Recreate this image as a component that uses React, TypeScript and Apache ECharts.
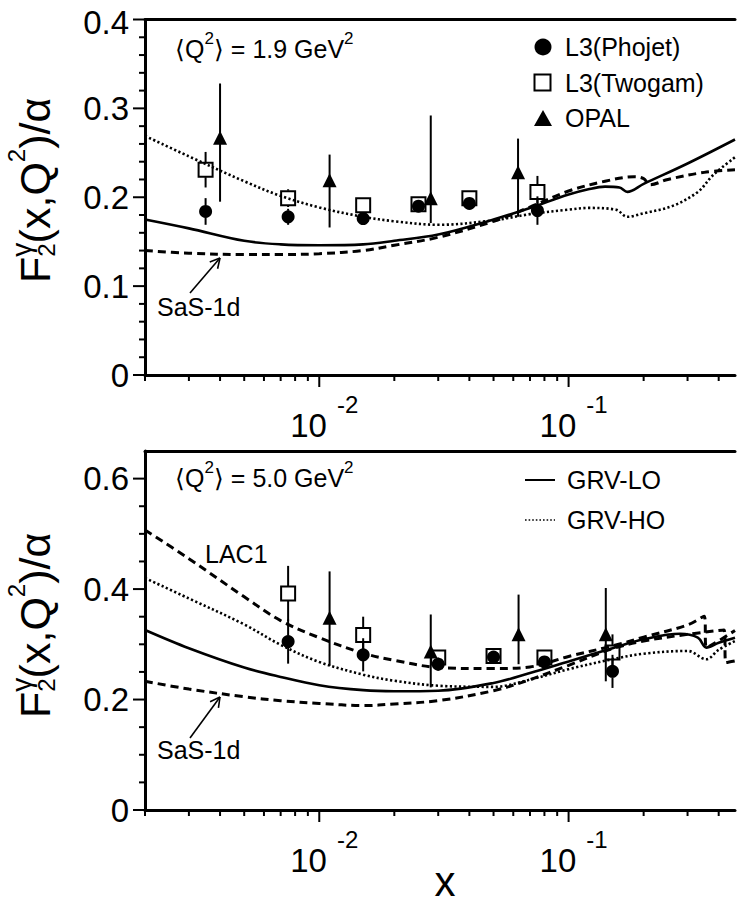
import React, { useEffect, useRef } from 'react';
import * as echarts from 'echarts';

const FONT = '"Liberation Sans", Arial, Helvetica, sans-serif';

// ---------- axes ----------
const X_MIN = 0.002;
const X_MAX = 0.465;
const X_TICKS = [0.002, 0.003, 0.004, 0.005, 0.006, 0.007, 0.008, 0.009, 0.01, 0.02, 0.03, 0.04, 0.05, 0.06, 0.07, 0.08, 0.09, 0.1, 0.2, 0.3, 0.4];
const X_MAJOR = [0.01, 0.1];
const TOP_Y_TICKS = [0, 0.02, 0.04, 0.06, 0.08, 0.1, 0.12, 0.14, 0.16, 0.18, 0.2, 0.22, 0.24, 0.26, 0.28, 0.3, 0.32, 0.34, 0.36, 0.38, 0.4];
const TOP_Y_MAJOR = [0, 0.1, 0.2, 0.3, 0.4];
const BOT_Y_TICKS = [0, 0.05, 0.1, 0.15, 0.2, 0.25, 0.3, 0.35, 0.4, 0.45, 0.5, 0.55, 0.6];
const BOT_Y_MAJOR = [0, 0.2, 0.4, 0.6];

// ---------- top panel: <Q2> = 1.9 GeV2 ----------
const phojetTopX = [0.0035, 0.0075, 0.015, 0.025, 0.04, 0.075];
const phojetTopY = [0.184, 0.178, 0.176, 0.190, 0.193, 0.185];
const phojetTopErr = [0.015, 0.009, 0.006, 0.006, 0.006, 0.016];

const twogamTopX = [0.0035, 0.0075, 0.015, 0.025, 0.04, 0.075];
const twogamTopY = [0.231, 0.199, 0.191, 0.192, 0.199, 0.206];
const twogamTopErr = [0.02, 0.01, 0.003, 0.005, 0.008, 0.018];

const opalTopX = [0.004, 0.011, 0.028, 0.0627];
const opalTopY = [0.267, 0.219, 0.199, 0.228];
const opalTopLo = [0.195, 0.166, 0.171, 0.178];
const opalTopHi = [0.328, 0.248, 0.292, 0.266];

const grvLoTopX = [0.002, 0.003, 0.005, 0.007, 0.01, 0.015, 0.02, 0.03, 0.05, 0.07, 0.1, 0.12, 0.14, 0.16, 0.172, 0.2, 0.3, 0.465];
const grvLoTopY = [0.175, 0.165, 0.151, 0.147, 0.146, 0.147, 0.151, 0.158, 0.175, 0.188, 0.203, 0.209, 0.212, 0.211, 0.206, 0.215, 0.238, 0.265];

const grvHoTopX = [0.002, 0.003, 0.005, 0.007, 0.01, 0.015, 0.02, 0.03, 0.05, 0.07, 0.1, 0.12, 0.155, 0.172, 0.2, 0.26, 0.33, 0.38, 0.465];
const grvHoTopY = [0.269, 0.246, 0.218, 0.2015, 0.1885, 0.178, 0.173, 0.169, 0.174, 0.181, 0.186, 0.188, 0.186, 0.178, 0.182, 0.19, 0.206, 0.225, 0.245];

const sasTopX = [0.002, 0.003, 0.005, 0.007, 0.01, 0.015, 0.02, 0.03, 0.05, 0.07, 0.1, 0.14, 0.183, 0.2, 0.212, 0.25, 0.35, 0.465];
const sasTopY = [0.140, 0.137, 0.1355, 0.1355, 0.1365, 0.140, 0.146, 0.155, 0.173, 0.189, 0.207, 0.218, 0.223, 0.221, 0.214, 0.220, 0.228, 0.231];

// ---------- bottom panel: <Q2> = 5.0 GeV2 ----------
const phojetBotX = [0.0075, 0.015, 0.03, 0.05, 0.08, 0.15];
const phojetBotY = [0.305, 0.281, 0.264, 0.277, 0.268, 0.251];
const phojetBotErr = [0.04, 0.03, 0.012, 0.008, 0.008, 0.03];

const twogamBotX = [0.0075, 0.015, 0.03, 0.05, 0.08, 0.15];
const twogamBotY = [0.392, 0.317, 0.276, 0.279, 0.276, 0.285];
const twogamBotErr = [0.05, 0.033, 0.01, 0.008, 0.008, 0.033];

const opalBotX = [0.011, 0.028, 0.063, 0.141];
const opalBotY = [0.348, 0.287, 0.318, 0.318];
const opalBotLo = [0.261, 0.222, 0.264, 0.233];
const opalBotHi = [0.432, 0.354, 0.390, 0.402];

const grvLoBotX = [0.002, 0.003, 0.005, 0.007, 0.01, 0.015, 0.02, 0.03, 0.05, 0.07, 0.1, 0.15, 0.2, 0.28, 0.33, 0.357, 0.4, 0.465];
const grvLoBotY = [0.326, 0.293, 0.258, 0.241, 0.226, 0.217, 0.215, 0.216, 0.230, 0.248, 0.269, 0.293, 0.309, 0.319, 0.312, 0.294, 0.303, 0.312];

const grvHoBotX = [0.002, 0.003, 0.005, 0.007, 0.01, 0.015, 0.02, 0.03, 0.05, 0.07, 0.1, 0.15, 0.2, 0.3, 0.357, 0.4, 0.465];
const grvHoBotY = [0.420, 0.383, 0.336, 0.299, 0.268, 0.245, 0.234, 0.225, 0.223, 0.236, 0.255, 0.273, 0.283, 0.288, 0.273, 0.290, 0.306];

const sasBotX = [0.002, 0.003, 0.005, 0.007, 0.01, 0.015, 0.02, 0.03, 0.05, 0.07, 0.1, 0.15, 0.2, 0.3, 0.42, 0.428, 0.465];
const sasBotY = [0.233, 0.219, 0.205, 0.198, 0.193, 0.189, 0.192, 0.198, 0.216, 0.236, 0.262, 0.292, 0.306, 0.318, 0.326, 0.267, 0.270];

const lac1BotX = [0.002, 0.003, 0.005, 0.007, 0.01, 0.015, 0.02, 0.03, 0.05, 0.07, 0.1, 0.15, 0.2, 0.3, 0.35, 0.357, 0.465];
const lac1BotY = [0.507, 0.455, 0.386, 0.343, 0.312, 0.284, 0.271, 0.258, 0.256, 0.259, 0.278, 0.297, 0.313, 0.335, 0.351, 0.294, 0.325];

// ---------- helpers ----------
let measureCtx: CanvasRenderingContext2D | null = null;
function measure(text: string, size: number): number {
  if (!measureCtx) measureCtx = document.createElement('canvas').getContext('2d');
  measureCtx!.font = `${size}px ${FONT}`;
  return measureCtx!.measureText(text).width;
}

type Seg = { t: string; fs: number; rise?: number; adv?: boolean };
function textEl(t: string, x: number, baseline: number, fs: number, align = 'left') {
  return {
    type: 'text',
    x,
    y: baseline - 0.3465 * fs,
    style: {
      text: t,
      fontSize: fs,
      fontFamily: FONT,
      lineHeight: Math.round(fs * 0.8),
      fill: '#000',
      align,
      verticalAlign: 'middle',
      textAlign: align,
      textVerticalAlign: 'middle',
    },
  };
}
function run(segs: Seg[], x0: number, baseline: number) {
  let x = x0;
  const out: any[] = [];
  for (const s of segs) {
    out.push(textEl(s.t, x, baseline - (s.rise || 0), s.fs));
    if (s.adv !== false) x += measure(s.t, s.fs);
  }
  return out;
}

function arrow(x1: number, y1: number, x2: number, y2: number) {
  const dx = x2 - x1, dy = y2 - y1;
  const L = Math.hypot(dx, dy);
  const ux = dx / L, uy = dy / L;
  const h = 11, a = (28 * Math.PI) / 180;
  const rot = (ang: number) => [ux * Math.cos(ang) - uy * Math.sin(ang), ux * Math.sin(ang) + uy * Math.cos(ang)];
  const r1 = rot(a), r2 = rot(-a);
  const st = { stroke: '#000', lineWidth: 1.6 };
  return [
    { type: 'line', shape: { x1, y1, x2, y2 }, style: st },
    { type: 'line', shape: { x1: x2, y1: y2, x2: x2 - h * r1[0], y2: y2 - h * r1[1] }, style: st },
    { type: 'line', shape: { x1: x2, y1: y2, x2: x2 - h * r2[0], y2: y2 - h * r2[1] }, style: st },
  ];
}

function yTitle(gx: number, gy: number) {
  return {
    type: 'group',
    x: gx,
    y: gy,
    rotation: Math.PI / 2,
    children: run(
      [
        { t: 'F', fs: 43 },
        { t: 'γ', fs: 28, rise: 19, adv: false },
        { t: '2', fs: 24, rise: -5 },
        { t: '(x,Q', fs: 43 },
        { t: '2', fs: 24, rise: 25 },
        { t: ')/α', fs: 43 },
      ],
      0,
      0
    ),
  };
}

function q2Label(x: number, baseline: number, val: string) {
  return run(
    [
      { t: '⟨Q', fs: 25 },
      { t: '2', fs: 17, rise: 14 },
      { t: '⟩ = ' + val + ' GeV', fs: 25 },
      { t: '2', fs: 17, rise: 14 },
    ],
    x,
    baseline
  );
}

const STYLE: Record<string, any> = {
  solid: { color: '#000', width: 2.6, type: 'solid' },
  dashed: { color: '#000', width: 3, type: [8, 5] },
  dotted: { color: '#000', width: 2.6, type: [2.2, 2.4] },
};

function lineSeries(gi: number, xs: number[], ys: number[], kind: string) {
  return {
    type: 'line',
    xAxisIndex: 2 * gi,
    yAxisIndex: gi,
    showSymbol: false,
    symbol: 'none',
    smooth: 0.35,
    silent: true,
    z: 2,
    lineStyle: STYLE[kind],
    data: xs.map((x, i) => [x, ys[i]]),
  };
}

function errSeries(gi: number, xs: number[], ys: number[], lo: number[], hi: number[], gap: number) {
  return {
    type: 'custom',
    xAxisIndex: 2 * gi,
    yAxisIndex: gi,
    silent: true,
    z: 3,
    data: xs.map((x, i) => [x, ys[i], lo[i], hi[i]]),
    renderItem: (params: any, api: any) => {
      const c = api.coord([api.value(0), api.value(1)]);
      const t = api.coord([api.value(0), api.value(3)]);
      const b = api.coord([api.value(0), api.value(2)]);
      const st = { stroke: '#000', lineWidth: 2 };
      const children: any[] = [];
      if (t[1] < c[1] - gap) children.push({ type: 'line', shape: { x1: c[0], y1: t[1], x2: c[0], y2: c[1] - gap }, style: st });
      if (b[1] > c[1] + gap) children.push({ type: 'line', shape: { x1: c[0], y1: c[1] + gap, x2: c[0], y2: b[1] }, style: st });
      return { type: 'group', children };
    },
  };
}

function symErr(ys: number[], e: number[], sign: number) {
  return ys.map((y, i) => y + sign * e[i]);
}

function scatter(gi: number, xs: number[], ys: number[], symbol: string, size: number, open: boolean) {
  return {
    type: 'scatter',
    xAxisIndex: 2 * gi,
    yAxisIndex: gi,
    symbol,
    symbolSize: size,
    silent: true,
    z: 4,
    itemStyle: open
      ? { color: 'rgba(255,255,255,0)', borderColor: '#000', borderWidth: 2, opacity: 1 }
      : { color: '#000', opacity: 1 },
    data: xs.map((x, i) => [x, ys[i]]),
  };
}

function xTicks(gi: number) {
  return {
    type: 'custom',
    xAxisIndex: 2 * gi,
    yAxisIndex: gi,
    silent: true,
    clip: false,
    z: 6,
    data: X_TICKS.map((v) => [v, 0, X_MAJOR.indexOf(v) >= 0 ? 1 : 0]),
    renderItem: (params: any, api: any) => {
      const p = api.coord([api.value(0), api.value(1)]);
      const len = api.value(2) ? 12 : 6;
      return { type: 'line', shape: { x1: p[0], y1: p[1], x2: p[0], y2: p[1] + len }, style: { stroke: '#000', lineWidth: 2 } };
    },
  };
}

function yTicks(gi: number, ticks: number[], major: number[]) {
  return {
    type: 'custom',
    xAxisIndex: 2 * gi,
    yAxisIndex: gi,
    silent: true,
    clip: false,
    z: 6,
    data: ticks.map((v) => [X_MIN, v, major.indexOf(v) >= 0 ? 1 : 0]),
    renderItem: (params: any, api: any) => {
      const p = api.coord([api.value(0), api.value(1)]);
      const len = api.value(2) ? 12 : 6;
      return { type: 'line', shape: { x1: p[0] - len, y1: p[1], x2: p[0], y2: p[1] }, style: { stroke: '#000', lineWidth: 2 } };
    },
  };
}

function xLabel(v: number) {
  const e = Math.round(Math.log10(v));
  if (Math.abs(v - Math.pow(10, e)) / v < 1e-6) return `{b|10}{s|${e}}`;
  return '';
}

function xMain(gi: number) {
  return {
    type: 'log',
    logBase: 10,
    gridIndex: gi,
    min: X_MIN,
    max: X_MAX,
    position: 'bottom',
    axisLine: { show: true, onZero: false, lineStyle: { color: '#000', width: 3 } },
    axisTick: { show: false },
    minorTick: { show: false },
    splitLine: { show: false },
    axisLabel: {
      interval: 0,
      margin: 17,
      color: '#000',
      formatter: xLabel,
      rich: {
        b: { fontSize: 33, fontFamily: FONT, color: '#000', lineHeight: 50, verticalAlign: 'bottom', padding: [0, 0, 0, 10] },
        s: { fontSize: 24, fontFamily: FONT, color: '#000', lineHeight: 24, verticalAlign: 'top', padding: [0, 0, 0, 10] },
      },
    },
  };
}
function xFrame(gi: number) {
  return {
    type: 'log',
    logBase: 10,
    gridIndex: gi,
    min: X_MIN,
    max: X_MAX,
    position: 'top',
    axisLine: { show: true, onZero: false, lineStyle: { color: '#000', width: 3 } },
    axisTick: { show: false },
    axisLabel: { show: false },
    splitLine: { show: false },
  };
}
function yAxis(gi: number, max: number, interval: number) {
  return {
    type: 'value',
    gridIndex: gi,
    min: 0,
    max,
    interval,
    axisLine: { show: true, onZero: false, lineStyle: { color: '#000', width: 3 } },
    axisTick: { show: false },
    splitLine: { show: false },
    axisLabel: {
      fontSize: 33,
      fontFamily: FONT,
      lineHeight: 28,
      color: '#000',
      margin: 16,
      formatter: (v: number) => {
        const k = v / interval;
        if (Math.abs(k - Math.round(k)) > 1e-6) return '';
        const s = v === 0 ? '0' : v.toFixed(1);
        return Math.abs(v - max) < 1e-9 ? `{t|${s}}` : s;
      },
      rich: {
        t: { fontSize: 33, fontFamily: FONT, color: '#000', lineHeight: 28, padding: [6, 0, 0, 0] },
      },
    },
  };
}

function buildOption() {
  const graphic: any[] = [
    yTitle(50, 283),
    yTitle(50, 718),
    ...q2Label(175, 58, '1.9'),
    ...q2Label(175, 487, '5.0'),
    // top legend
    { type: 'circle', shape: { cx: 543, cy: 47, r: 8.5 }, style: { fill: '#000' } },
    textEl('L3(Phojet)', 565, 56, 25),
    { type: 'rect', shape: { x: 534.5, y: 74.5, width: 16, height: 16 }, style: { fill: 'none', stroke: '#000', lineWidth: 2 } },
    textEl('L3(Twogam)', 565, 92, 25),
    { type: 'polygon', shape: { points: [[534, 126], [552, 126], [543, 110]] }, style: { fill: '#000' } },
    textEl('OPAL', 565, 127, 25),
    // bottom legend
    { type: 'line', shape: { x1: 525, y1: 480, x2: 555, y2: 480 }, style: { stroke: '#000', lineWidth: 2 } },
    textEl('GRV-LO', 567, 489, 25),
    { type: 'line', shape: { x1: 525, y1: 520, x2: 555, y2: 520 }, style: { stroke: '#000', lineWidth: 1.6, lineDash: [1.6, 2] } },
    textEl('GRV-HO', 567, 529, 25),
    // annotations
    textEl('SaS-1d', 157, 316, 25),
    ...arrow(190, 293, 220, 258),
    textEl('SaS-1d', 157, 759, 25),
    ...arrow(190, 738, 220, 697),
    textEl('LAC1', 205, 563, 25),
    textEl('x', 445, 896, 42, 'center'),
  ];

  const series: any[] = [
    // top
    lineSeries(0, grvLoTopX, grvLoTopY, 'solid'),
    lineSeries(0, grvHoTopX, grvHoTopY, 'dotted'),
    lineSeries(0, sasTopX, sasTopY, 'dashed'),
    errSeries(0, phojetTopX, phojetTopY, symErr(phojetTopY, phojetTopErr, -1), symErr(phojetTopY, phojetTopErr, 1), 6),
    errSeries(0, twogamTopX, twogamTopY, symErr(twogamTopY, twogamTopErr, -1), symErr(twogamTopY, twogamTopErr, 1), 7.5),
    errSeries(0, opalTopX, opalTopY, opalTopLo, opalTopHi, 0),
    scatter(0, phojetTopX, phojetTopY, 'circle', 13, false),
    scatter(0, twogamTopX, twogamTopY, 'rect', 14, true),
    scatter(0, opalTopX, opalTopY, 'triangle', 14, false),
    xTicks(0),
    yTicks(0, TOP_Y_TICKS, TOP_Y_MAJOR),
    // bottom
    lineSeries(1, grvLoBotX, grvLoBotY, 'solid'),
    lineSeries(1, grvHoBotX, grvHoBotY, 'dotted'),
    lineSeries(1, sasBotX, sasBotY, 'dashed'),
    lineSeries(1, lac1BotX, lac1BotY, 'dashed'),
    errSeries(1, phojetBotX, phojetBotY, symErr(phojetBotY, phojetBotErr, -1), symErr(phojetBotY, phojetBotErr, 1), 6),
    errSeries(1, twogamBotX, twogamBotY, symErr(twogamBotY, twogamBotErr, -1), symErr(twogamBotY, twogamBotErr, 1), 7.5),
    errSeries(1, opalBotX, opalBotY, opalBotLo, opalBotHi, 0),
    scatter(1, phojetBotX, phojetBotY, 'circle', 13, false),
    scatter(1, twogamBotX, twogamBotY, 'rect', 14, true),
    scatter(1, opalBotX, opalBotY, 'triangle', 14, false),
    xTicks(1),
    yTicks(1, BOT_Y_TICKS, BOT_Y_MAJOR),
  ];

  return {
    animation: false,
    backgroundColor: '#fff',
    grid: [
      { left: 145, top: 16, width: 593, height: 359 },
      { left: 145, top: 451, width: 593, height: 359 },
    ],
    xAxis: [xMain(0), xFrame(0), xMain(1), xFrame(1)],
    yAxis: [yAxis(0, 0.4, 0.1), yAxis(1, 0.65, 0.2)],
    series,
    graphic,
  };
}

export default function App() {
  const ref = useRef<HTMLDivElement>(null);
  useEffect(() => {
    const chart = echarts.init(ref.current!, null, { renderer: 'svg' });
    chart.setOption(buildOption() as any);
    return () => chart.dispose();
  }, []);
  return (
    <div
      ref={ref}
      style={{ position: 'absolute', left: 0, top: 0, width: 738, height: 906, background: '#fff' }}
    />
  );
}
